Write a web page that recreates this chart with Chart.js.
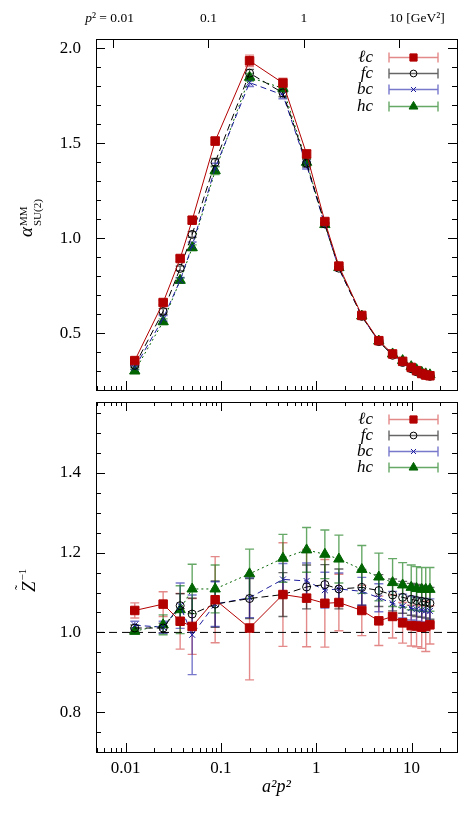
<!DOCTYPE html>
<html>
<head>
<meta charset="utf-8">
<script src="https://cdn.jsdelivr.net/npm/chart.js@4.4.0/dist/chart.umd.min.js"></script>
<style>
  html, body { margin: 0; padding: 0; background: #fff; }
  #wrap { position: relative; width: 468px; height: 817px; }
  .panel { position: absolute; left: 0; }
</style>
</head>
<body>
<div id="wrap">
  <canvas id="alphaChart" class="panel" style="top:0" width="468" height="400"></canvas>
  <canvas id="zChart" class="panel" style="top:395px" width="468" height="422"></canvas>
</div>
<script>
// a^2 p^2 of the momenta
const aSq = [0.0125, 0.0248, 0.0374, 0.0500, 0.0871, 0.200, 0.448, 0.793, 1.233, 1.73,
             3.01, 4.54, 6.33, 8.07, 9.93, 11.3, 12.8, 14.1, 15.6];
const seriesNames = ['ℓc', 'fc', 'bc', 'hc'];

// upper panel: alpha_SU(2)^MM
const alphaLc = [0.355, 0.661, 0.893, 1.095, 1.512, 1.935, 1.818, 1.444, 1.088, 0.853,
                 0.593, 0.460, 0.390, 0.351, 0.319, 0.302, 0.287, 0.279, 0.275];
const alphaLcErr = [0.012, 0.012, 0.015, 0.018, 0.02, 0.03, 0.025, 0.02, 0.012, 0.01,
                    0.008, 0.006, 0.005, 0.005, 0.005, 0.005, 0.005, 0.005, 0.005];
const alphaFc = [0.330, 0.614, 0.841, 1.020, 1.400, 1.870, 1.766, 1.395, 1.075, 0.842,
                 0.588, 0.455, 0.383, 0.345, 0.312, 0.296, 0.283, 0.277, 0.272];
const alphaFcErr = [0.01, 0.015, 0.012, 0.015, 0.02, 0.02, 0.02, 0.02, 0.01, 0.008,
                    0.006, 0.005, 0.005, 0.005, 0.005, 0.004, 0.004, 0.004, 0.004];
const alphaBc = [0.318, 0.577, 0.778, 0.960, 1.370, 1.820, 1.755, 1.385, 1.070, 0.840,
                 0.588, 0.456, 0.386, 0.349, 0.316, 0.299, 0.286, 0.279, 0.274];
const alphaBcErr = [0.01, 0.015, 0.015, 0.02, 0.025, 0.02, 0.02, 0.02, 0.01, 0.008,
                    0.006, 0.005, 0.005, 0.005, 0.005, 0.004, 0.004, 0.004, 0.004];
const alphaHc = [0.300, 0.560, 0.778, 0.950, 1.356, 1.848, 1.790, 1.400, 1.072, 0.845,
                 0.590, 0.458, 0.390, 0.355, 0.323, 0.307, 0.293, 0.285, 0.280];
const alphaHcErr = [0.01, 0.015, 0.012, 0.015, 0.02, 0.02, 0.02, 0.02, 0.01, 0.008,
                    0.006, 0.005, 0.005, 0.005, 0.005, 0.004, 0.004, 0.004, 0.004];

// lower panel: 1 / Z-tilde
const zLc = [1.055, 1.071, 1.028, 1.015, 1.082, 1.011, 1.095, 1.086, 1.073, 1.075,
             1.055, 1.029, 1.040, 1.024, 1.017, 1.016, 1.013, 1.015, 1.019];
const zLcErr = [0.019, 0.031, 0.07, 0.07, 0.108, 0.13, 0.13, 0.122, 0.11, 0.071,
                0.063, 0.062, 0.054, 0.051, 0.051, 0.052, 0.053, 0.063, 0.048];
const zFc = [1.011, 1.011, 1.067, 1.046, 1.071, 1.085, 1.095, 1.114, 1.120, 1.109,
             1.113, 1.105, 1.094, 1.088, 1.083, 1.080, 1.078, 1.076, 1.073];
const zFcErr = [0.008, 0.012, 0.03, 0.04, 0.058, 0.05, 0.055, 0.055, 0.05, 0.05,
                0.045, 0.04, 0.04, 0.04, 0.04, 0.04, 0.04, 0.04, 0.04];
const zBc = [1.018, 1.013, 1.067, 0.994, 1.071, 1.087, 1.133, 1.129, 1.106, 1.109,
             1.103, 1.087, 1.073, 1.066, 1.061, 1.058, 1.056, 1.055, 1.054];
const zBcErr = [0.01, 0.015, 0.057, 0.1, 0.056, 0.05, 0.04, 0.045, 0.045, 0.04,
                0.035, 0.035, 0.03, 0.03, 0.03, 0.03, 0.03, 0.03, 0.03];
const zHc = [1.003, 1.019, 1.057, 1.109, 1.109, 1.147, 1.186, 1.207, 1.196, 1.184,
             1.158, 1.139, 1.125, 1.119, 1.113, 1.110, 1.108, 1.108, 1.108];
const zHcErr = [0.008, 0.025, 0.06, 0.062, 0.06, 0.062, 0.06, 0.056, 0.061, 0.06,
                0.06, 0.06, 0.06, 0.056, 0.056, 0.055, 0.055, 0.055, 0.055];
const zRef = 1.0;

// axes
const xRange = [0.0049, 30];
const xTicks = [0.01, 0.1, 1, 10];
const pScale = 1.349; // p^2 [GeV^2] = pScale * a^2 p^2
const pTicks = [0.01, 0.1, 1, 10];
const pTickLabels = ['0.01', '0.1', '1', '10'];
const alphaRange = [0.2, 2.05];
const alphaTicks = [0.5, 1.0, 1.5, 2.0];
const zRange = [0.7, 1.578];
const zTicks = [0.8, 1.0, 1.2, 1.4];

const SERIF = '"Liberation Serif", "DejaVu Serif", serif';
const styles = [
  { color: '#b30000', bar: 'rgba(205,40,40,0.55)', point: 'rect', r: 6, fill: '#b30000', dash: [] },
  { color: '#000000', bar: 'rgba(0,0,0,0.6)', point: 'circle', r: 4, fill: 'rgba(0,0,0,0)', dash: [7, 4] },
  { color: '#1c1c9c', bar: 'rgba(30,30,170,0.6)', point: 'crossRot', r: 4.2, fill: '#1c1c9c', dash: [6, 4] },
  { color: '#006400', bar: 'rgba(0,110,0,0.6)', point: 'triangle', r: 6, fill: '#006400', dash: [2, 3] },
];

function makeSeries(values, errors, k) {
  const s = styles[k];
  return {
    label: seriesNames[k],
    data: aSq.map((x, i) => ({ x: x, y: values[i] })),
    errors: errors,
    barColor: s.bar,
    borderColor: s.color,
    borderWidth: 1,
    borderDash: s.dash,
    pointStyle: s.point,
    pointRadius: s.r,
    pointBackgroundColor: s.fill,
    pointBorderColor: s.color,
    pointBorderWidth: 1,
    fill: false,
    tension: 0,
  };
}

function drawErrorBars(chart) {
  const ctx = chart.ctx;
  const ys = chart.scales.y;
  chart.data.datasets.forEach((ds, i) => {
    if (!ds.errors) return;
    const meta = chart.getDatasetMeta(i);
    ctx.save();
    ctx.strokeStyle = ds.barColor;
    ctx.lineWidth = 1.4;
    ctx.beginPath();
    meta.data.forEach((pt, j) => {
      const y1 = ys.getPixelForValue(ds.data[j].y - ds.errors[j]);
      const y2 = ys.getPixelForValue(ds.data[j].y + ds.errors[j]);
      ctx.moveTo(pt.x, y1); ctx.lineTo(pt.x, y2);
      ctx.moveTo(pt.x - 4.5, y1); ctx.lineTo(pt.x + 4.5, y1);
      ctx.moveTo(pt.x - 4.5, y2); ctx.lineTo(pt.x + 4.5, y2);
    });
    ctx.stroke();
    ctx.restore();
  });
}

function drawInwardTicks(chart, cfg) {
  const ctx = chart.ctx, a = chart.chartArea;
  const xs = chart.scales.x, ys = chart.scales.y;
  ctx.save();
  ctx.strokeStyle = '#000';
  ctx.lineWidth = 1;
  ctx.beginPath();
  for (let e = -3; e <= 2; e++) {
    for (let m = 1; m <= 9; m++) {
      const v = m * Math.pow(10, e);
      if (v < xs.min || v > xs.max) continue;
      const px = Math.round(xs.getPixelForValue(v)) + 0.5;
      const len = m === 1 ? 9 : 4;
      ctx.moveTo(px, a.bottom); ctx.lineTo(px, a.bottom - len);
      if (cfg.minorTop) { ctx.moveTo(px, a.top); ctx.lineTo(px, a.top + len); }
    }
  }
  if (cfg.pTop) {
    const ps = chart.scales.xTop;
    pTicks.forEach(v => {
      const px = Math.round(ps.getPixelForValue(v)) + 0.5;
      ctx.moveTo(px, a.top); ctx.lineTo(px, a.top + 9);
    });
  }
  const k0 = Math.ceil(ys.min / cfg.yMinor - 1e-6), k1 = Math.floor(ys.max / cfg.yMinor + 1e-6);
  for (let k = k0; k <= k1; k++) {
    const v = k * cfg.yMinor;
    const py = Math.round(ys.getPixelForValue(v)) + 0.5;
    const r = v / cfg.yMajor;
    const len = Math.abs(r - Math.round(r)) < 1e-6 ? 9 : 5;
    ctx.moveTo(a.left, py); ctx.lineTo(a.left + len, py);
    ctx.moveTo(a.right, py); ctx.lineTo(a.right - len, py);
  }
  ctx.stroke();
  ctx.restore();
}

// p^2 labels along the top of the upper panel
function drawPLabels(chart) {
  const ctx = chart.ctx, ps = chart.scales.xTop;
  const y = 18;
  const num = '13.5px ' + SERIF;
  ctx.save();
  ctx.fillStyle = '#000';
  ctx.textBaseline = 'middle';
  ctx.font = num;
  ctx.textAlign = 'center';
  const c0 = ps.getPixelForValue(pTicks[0]) + 9;
  ctx.fillText(pTickLabels[0], c0, y);
  let left = c0 - ctx.measureText(pTickLabels[0]).width / 2;
  ctx.textAlign = 'right';
  ctx.fillText('= ', left, y);
  left -= ctx.measureText('= ').width;
  ctx.fillText('² ', left, y);
  left -= ctx.measureText('² ').width;
  ctx.font = 'italic ' + num;
  ctx.fillText('p', left, y);
  ctx.font = num;
  ctx.textAlign = 'center';
  ctx.fillText(pTickLabels[1], ps.getPixelForValue(pTicks[1]), y);
  ctx.fillText(pTickLabels[2], ps.getPixelForValue(pTicks[2]), y);
  const c3 = ps.getPixelForValue(pTicks[3]) - 3;
  ctx.fillText(pTickLabels[3], c3, y);
  ctx.textAlign = 'left';
  ctx.fillText(' [GeV²]', c3 + ctx.measureText(pTickLabels[3]).width / 2, y);
  ctx.restore();
}

function drawLegend(chart, cfg) {
  const ctx = chart.ctx, a = chart.chartArea;
  chart.data.datasets.forEach((ds, i) => {
    if (!ds.errors) return;
    const y = Math.round(a.top + cfg.legendTop + i * 16.2) + 0.5;
    ctx.save();
    ctx.font = 'italic 17px ' + SERIF;
    ctx.fillStyle = '#000';
    ctx.textAlign = 'right';
    ctx.textBaseline = 'middle';
    ctx.fillText(ds.label, 373, y);
    ctx.strokeStyle = ds.barColor;
    ctx.lineWidth = 1.4;
    ctx.beginPath();
    ctx.moveTo(389, y); ctx.lineTo(438, y);
    ctx.moveTo(389, y - 5); ctx.lineTo(389, y + 5);
    ctx.moveTo(438, y - 5); ctx.lineTo(438, y + 5);
    ctx.stroke();
    ctx.fillStyle = ds.pointBackgroundColor;
    ctx.strokeStyle = ds.borderColor;
    ctx.lineWidth = 1;
    Chart.helpers.drawPoint(ctx, { pointStyle: ds.pointStyle, radius: ds.pointRadius * 0.85, rotation: 0, borderWidth: 1 }, 413.5, y);
    ctx.restore();
  });
}

function decor(cfg) {
  return {
    id: 'decor',
    beforeDatasetsDraw(chart) { drawErrorBars(chart); },
    afterDraw(chart) {
      drawInwardTicks(chart, cfg);
      if (cfg.pTop) drawPLabels(chart);
      drawLegend(chart, cfg);
      cfg.titles(chart.ctx);
    }
  };
}

function alphaTitle(ctx) {
  ctx.save();
  ctx.translate(32, 237);
  ctx.rotate(-Math.PI / 2);
  ctx.fillStyle = '#000';
  ctx.textAlign = 'left';
  ctx.textBaseline = 'alphabetic';
  ctx.font = 'italic 19px ' + SERIF;
  ctx.fillText('α', 0, 0);
  const w = ctx.measureText('α').width + 1;
  ctx.font = '11px ' + SERIF;
  ctx.fillText('MM', w, -5);
  ctx.fillText('SU(2)', w, 9);
  ctx.restore();
}

function zTitles(ctx) {
  ctx.save();
  ctx.fillStyle = '#000';
  ctx.translate(35, 592 - 395);
  ctx.rotate(-Math.PI / 2);
  ctx.textAlign = 'left';
  ctx.textBaseline = 'alphabetic';
  ctx.font = 'italic 19px ' + SERIF;
  ctx.fillText('Z', 0, 0);
  const w = ctx.measureText('Z').width;
  ctx.font = '15px ' + SERIF;
  ctx.fillText('˜', w / 2 - 3, -10);
  ctx.font = '11px ' + SERIF;
  ctx.fillText('−1', w + 1, -9);
  ctx.restore();
  ctx.save();
  ctx.fillStyle = '#000';
  ctx.textAlign = 'center';
  ctx.textBaseline = 'middle';
  ctx.font = 'italic 18px ' + SERIF;
  ctx.fillText('a²p²', 276.5, 787 - 395);
  ctx.restore();
}

// fix the size of an axis box and drop the label overhang padding
function fixSize(prop, size) {
  return s => {
    s[prop] = size;
    s.paddingTop = 0; s.paddingBottom = 0; s.paddingLeft = 0; s.paddingRight = 0;
  };
}

const frame = { display: true, color: '#000', width: 1 };
const noGrid = { display: false, drawTicks: false };

new Chart(document.getElementById('alphaChart'), {
  type: 'line',
  data: {
    datasets: [
      makeSeries(alphaLc, alphaLcErr, 0),
      makeSeries(alphaFc, alphaFcErr, 1),
      makeSeries(alphaBc, alphaBcErr, 2),
      makeSeries(alphaHc, alphaHcErr, 3),
    ]
  },
  options: {
    responsive: false,
    animation: false,
    layout: { padding: 0 },
    plugins: { legend: { display: false }, tooltip: { enabled: false } },
    scales: {
      x: {
        type: 'logarithmic', position: 'bottom', min: xRange[0], max: xRange[1],
        grid: noGrid, border: frame, ticks: { display: false },
        afterFit: fixSize('height', 10),
      },
      xTop: {
        type: 'logarithmic', position: 'top', min: xRange[0] * pScale, max: xRange[1] * pScale,
        grid: noGrid, border: frame, ticks: { display: false },
        afterFit: fixSize('height', 39),
      },
      y: {
        position: 'left', min: alphaRange[0], max: alphaRange[1],
        grid: noGrid, border: frame,
        afterBuildTicks: s => { s.ticks = alphaTicks.map(v => ({ value: v })); },
        ticks: { padding: 15, color: '#000', font: { family: SERIF, size: 17 }, callback: v => v.toFixed(1) },
        afterFit: fixSize('width', 96),
      },
      yR: {
        position: 'right', min: alphaRange[0], max: alphaRange[1],
        grid: noGrid, border: frame, ticks: { display: false },
        afterFit: fixSize('width', 11),
      },
    }
  },
  plugins: [decor({ minorTop: false, pTop: true, yMinor: 0.1, yMajor: 0.5, legendTop: 18, titles: alphaTitle })]
});

new Chart(document.getElementById('zChart'), {
  type: 'line',
  data: {
    datasets: [
      makeSeries(zLc, zLcErr, 0),
      makeSeries(zFc, zFcErr, 1),
      makeSeries(zBc, zBcErr, 2),
      makeSeries(zHc, zHcErr, 3),
      {
        label: '',
        data: [{ x: xRange[0], y: zRef }, { x: xRange[1], y: zRef }],
        borderColor: '#000', borderWidth: 1, borderDash: [8, 5],
        pointRadius: 0, fill: false,
      },
    ]
  },
  options: {
    responsive: false,
    animation: false,
    layout: { padding: 0 },
    plugins: { legend: { display: false }, tooltip: { enabled: false } },
    scales: {
      x: {
        type: 'logarithmic', position: 'bottom', min: xRange[0], max: xRange[1],
        grid: noGrid, border: frame,
        afterBuildTicks: s => { s.ticks = xTicks.map(v => ({ value: v })); },
        ticks: {
          autoSkip: false, maxRotation: 0, padding: 6, color: '#000',
          font: { family: SERIF, size: 17 },
          callback: v => String(v),
        },
        afterFit: fixSize('height', 65),
      },
      xT: {
        type: 'logarithmic', position: 'top', min: xRange[0], max: xRange[1],
        grid: noGrid, border: frame, ticks: { display: false },
        afterFit: fixSize('height', 5),
      },
      y: {
        position: 'left', min: zRange[0], max: zRange[1],
        grid: noGrid, border: frame,
        afterBuildTicks: s => { s.ticks = zTicks.map(v => ({ value: v })); },
        ticks: { padding: 15, color: '#000', font: { family: SERIF, size: 17 }, callback: v => v.toFixed(1) },
        afterFit: fixSize('width', 96),
      },
      yR: {
        position: 'right', min: zRange[0], max: zRange[1],
        grid: noGrid, border: frame, ticks: { display: false },
        afterFit: fixSize('width', 11),
      },
    }
  },
  plugins: [decor({ minorTop: true, pTop: false, yMinor: 0.05, yMajor: 0.2, legendTop: 16.7, titles: zTitles })]
});
</script>
</body>
</html>
